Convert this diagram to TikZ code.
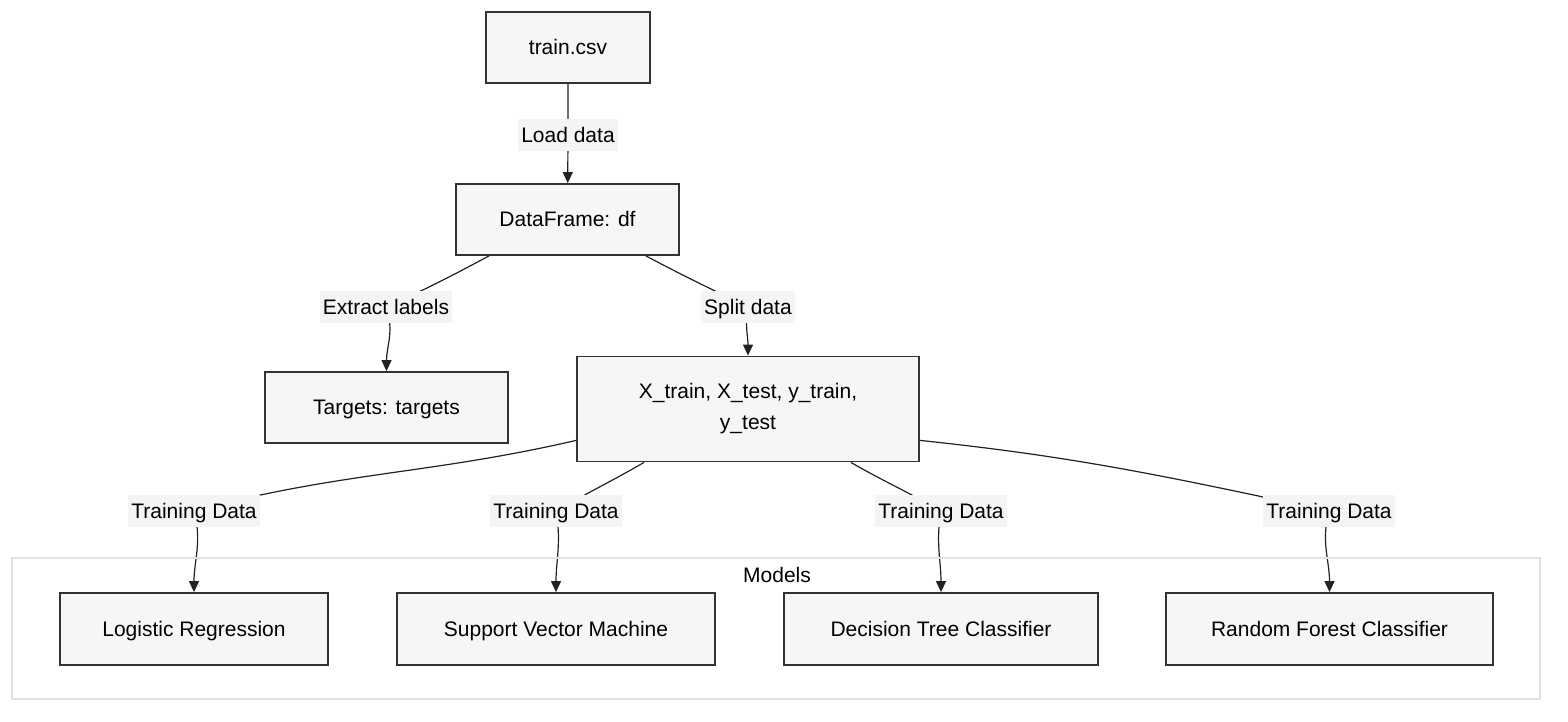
\documentclass[tikz,border=0pt]{standalone}
\usepackage{fontspec}
\setmainfont{Liberation Sans}
\usetikzlibrary{arrows.meta,backgrounds}
\definecolor{boxfill}{HTML}{F6F6F6}
\definecolor{boxline}{HTML}{333333}
\definecolor{lblfill}{HTML}{F4F4F4}
\definecolor{edgecol}{HTML}{222222}
\definecolor{clusterline}{HTML}{E2E2E2}
\begin{document}
\begin{tikzpicture}[
  x=0.5pt, y=-0.5pt,
  font=\fontsize{10.5}{15.5}\selectfont,
  stepbox/.style={draw=boxline, fill=boxfill, line width=0.9pt,
    minimum height=35.5pt, align=center},
  oneline/.style={text height=0.86em, text depth=0.12em},
  edgelabel/.style={fill=lblfill, inner xsep=1.5pt, inner ysep=3pt,
    text height=0.86em, text depth=0.12em},
  cluster/.style={draw=clusterline, line width=1pt},
  flow/.style={line width=0.6pt, draw=edgecol},
  flowarrow/.style={flow, -{Triangle[length=5.5pt, width=5pt]}},
]
\useasboundingbox (0,0) rectangle (1568,722);

% Models cluster
\node[cluster, minimum width=764pt, minimum height=70.5pt] (models) at (776,628.5) {};
\node[oneline] (modelstitle) at (777,575) {Models};

% Main boxes
\node[stepbox, oneline, minimum width=82pt] (train) at (568,47.5) {train.csv};
\node[stepbox, oneline, minimum width=111.5pt] (df) at (567.5,219.5) {DataFrame: df};
\node[stepbox, oneline, minimum width=121.5pt] (tg) at (386.5,407.5) {Targets: targets};
\node[stepbox, minimum width=171pt, minimum height=52.5pt] (split) at (748,409)
  {X\_train, X\_test, y\_train,\\y\_test};

% Model boxes
\node[stepbox, oneline, minimum width=134pt, minimum height=36pt] (lr) at (194,629) {Logistic Regression};
\node[stepbox, oneline, minimum width=159pt, minimum height=36pt] (svm) at (556,629) {Support Vector Machine};
\node[stepbox, oneline, minimum width=157pt, minimum height=36pt] (dt) at (941,629) {Decision Tree Classifier};
\node[stepbox, oneline, minimum width=163.5pt, minimum height=36pt] (rf) at (1329.5,629) {Random Forest Classifier};

% Edge labels
\node[edgelabel] (lload) at (568,135) {Load data};
\node[edgelabel] (lextract) at (386,307) {Extract labels};
\node[edgelabel] (lsplit) at (748,307) {Split data};
\node[edgelabel] (llr) at (194,511) {Training Data};
\node[edgelabel] (lsvm) at (556,511) {Training Data};
\node[edgelabel] (ldt) at (941,511) {Training Data};
\node[edgelabel] (lrf) at (1329,511) {Training Data};

% Connectors, behind the labels
\begin{pgfonlayer}{background}
\draw[flowarrow] (train) -- (lload.center) -- (df);
\draw[flowarrow] ([xshift=17pt]df.south west) to[out=-152,in=24] (lextract.center)
  to[out=-70,in=90] (tg.north);
\draw[flowarrow] ([xshift=-17pt]df.south east) to[out=-28,in=154] (lsplit.center)
  to[out=-100,in=90] (split.north);
\draw[flowarrow] ([yshift=11pt]split.south west) to[out=-167,in=15] (llr.center)
  to[out=-75,in=90] (lr.north);
\draw[flowarrow] ([xshift=34pt]split.south west) to[out=-150,in=30] (lsvm.center)
  to[out=-80,in=90] (svm.north);
\draw[flowarrow] ([xshift=-34.5pt]split.south east) to[out=-30,in=150] (ldt.center)
  to[out=-100,in=90] (dt.north);
\draw[flowarrow] ([yshift=11pt]split.south east) to[out=-6,in=168] (lrf.center)
  to[out=-105,in=90] (rf.north);
\end{pgfonlayer}
\end{tikzpicture}
\end{document}
